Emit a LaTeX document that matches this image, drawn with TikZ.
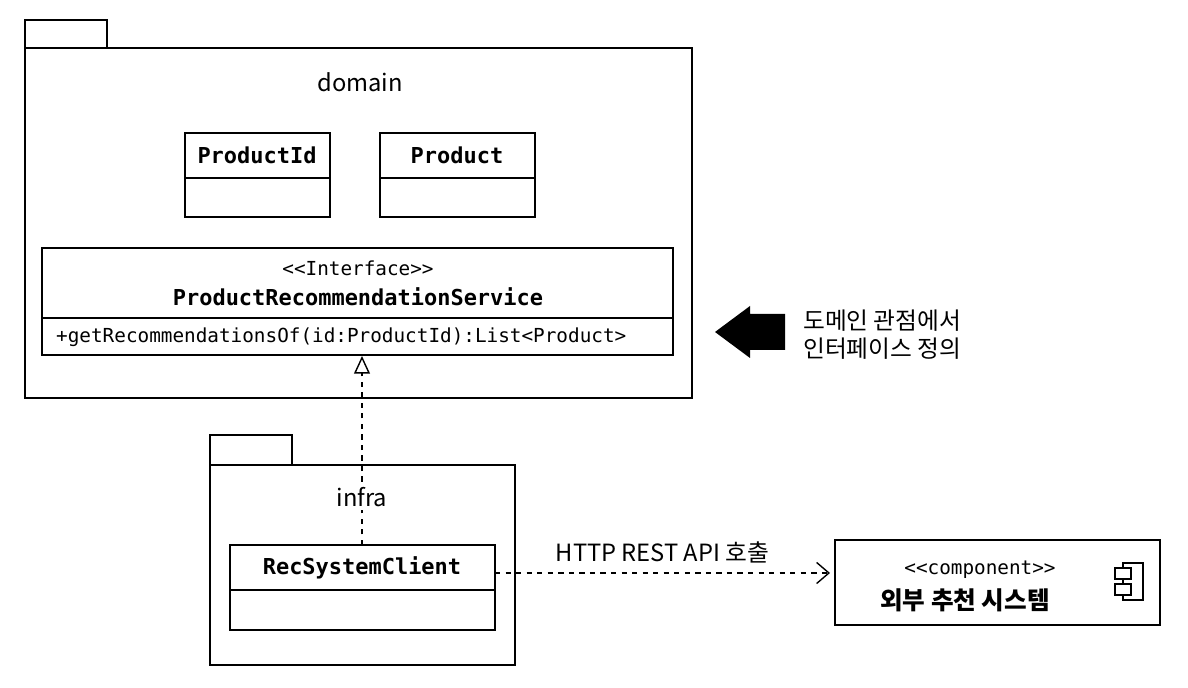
\documentclass[tikz,border=0pt]{standalone}
\usepackage{fontspec}
\setmainfont{Noto Sans CJK KR}
\setmonofont{DejaVu Sans Mono}
\newfontfamily\krfont{Noto Sans CJK KR}
\usetikzlibrary{arrows.meta}
\tikzset{
  box/.style={draw,line width=1pt},
  cls/.style={font=\ttfamily\bfseries\fontsize{12.5}{14}\selectfont},
  small/.style={font=\ttfamily\fontsize{11}{13}\selectfont},
  lbl/.style={font=\fontsize{13.5}{16}\selectfont},
}
\begin{document}
\begin{tikzpicture}[x=0.02cm,y=-0.02cm]
\useasboundingbox (0,0) rectangle (1188,688);
% domain package
\draw[box] (25,20) rectangle (107,48);
\draw[box] (25,48) rectangle (692,398);
\node[lbl] (dom) at (360,82) {domain};
\draw[box] (185,133) rectangle (330,217); \draw[box] (185,178)--(330,178);
\node[cls] (pid) at (257,155) {ProductId};
\draw[box] (380,133) rectangle (535,217); \draw[box] (380,178)--(535,178);
\node[cls] (prod) at (457,155) {Product};
% interface
\draw[box] (42,248) rectangle (673,355); \draw[box] (42,318)--(673,318);
\node[small] (st) at (358,268) {<<Interface>>};
\node[cls] (svc) at (358,297) {ProductRecommendationService};
\node[small,anchor=west] (meth) at (50,337) {+getRecommendationsOf(id:ProductId):List<Product>};
\coordinate (svcb) at (362,356);
% note
\fill (715,332)--(750,306)--(750,314)--(785,314)--(785,350)--(750,350)--(750,358)--cycle;
\node[lbl,anchor=west,align=left] (note) at (797,335) {도메인 관점에서\\인터페이스 정의};
% infra package
\draw[box] (210,435) rectangle (292,465);
\draw[box] (210,465) rectangle (515,665);
\draw[box] (230,545) rectangle (495,630); \draw[box] (230,590)--(495,590);
\node[cls] (rsc) at (362,568) {RecSystemClient};
\coordinate (rsct) at (362,545);
\draw[dashed,line width=0.8pt,-{Triangle[open,length=10pt,width=9pt]}] (rsct)--(svcb);
\node[lbl,fill=white,inner sep=2pt] (infra) at (362,497) {infra};
% component
\draw[box] (835,540) rectangle (1160,625);
\node[small] (cst) at (980,570) {<<component>>};
\node[font=\bfseries\fontsize{14}{16}\selectfont] (ext) at (965,600) {외부 추천 시스템};
\draw[line width=0.9pt] (1123,563) rectangle (1143,600);
\draw[line width=0.9pt,fill=white] (1115,568) rectangle (1131,579);
\draw[line width=0.9pt,fill=white] (1115,584) rectangle (1131,595);
\coordinate (rscr) at (495,573);
\coordinate (extl) at (830,573);
\draw[dashed,line width=0.8pt,-{Straight Barb[length=7pt,width=12pt]}] (rscr)--node[lbl,above=2pt]{HTTP REST API 호출}(extl);
\end{tikzpicture}
\end{document}
